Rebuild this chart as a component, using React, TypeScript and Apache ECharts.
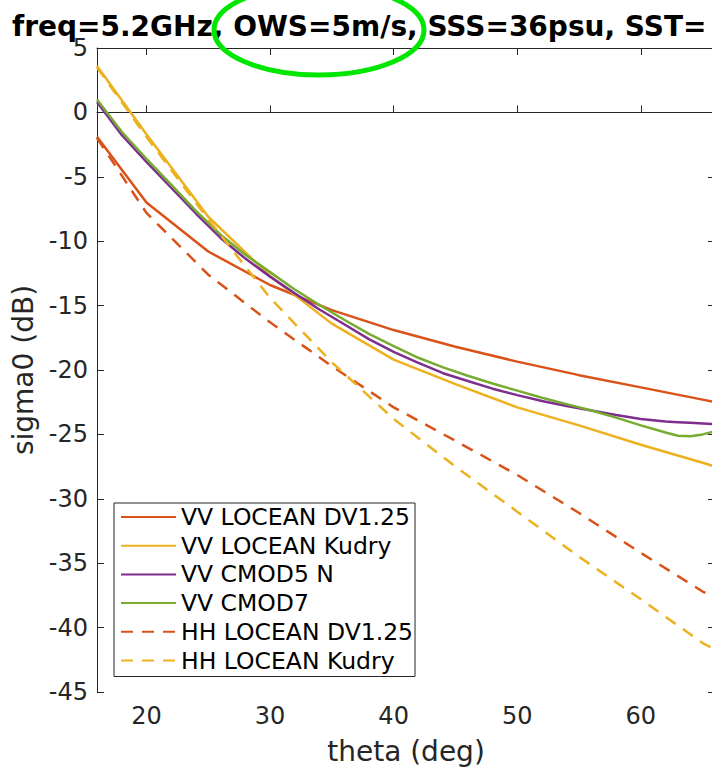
import React, { useEffect, useRef } from "react";
import * as echarts from "echarts";

// Incidence angles (deg) of the LOCEAN model curves
const thetaLocean = [16, 20, 25, 30, 35, 40, 45, 50, 55, 60, 65, 66];
const vvLoceanDV = [-1.9, -7.0, -10.8, -13.4, -15.35, -16.9, -18.2, -19.35, -20.4, -21.35, -22.3, -22.5];
const vvLoceanKudry = [3.6, -1.7, -8.1, -12.7, -16.4, -19.2, -21.1, -22.9, -24.3, -25.8, -27.2, -27.5];
const hhLoceanDV = [-2.0, -7.8, -12.6, -16.3, -19.7, -22.9, -25.5, -28.15, -31.1, -34.2, -37.2, -37.7];
const hhLoceanKudry = [3.5, -1.9, -8.3, -14.4, -19.4, -23.8, -27.5, -31.0, -34.5, -37.8, -41.2, -41.7];

// Incidence angles (deg) of the CMOD curves
const thetaCmod = [16, 18, 20, 22, 24, 26, 28, 30, 32, 34, 36, 38, 40, 42, 44, 46, 48, 50, 52, 54, 56, 58, 60, 62, 63, 64, 65, 66];
const vvCmod5n = [0.8, -1.75, -3.85, -5.85, -7.85, -9.75, -11.35, -12.75, -14.05, -15.3, -16.45, -17.6, -18.6, -19.45, -20.25, -20.85, -21.45, -21.95, -22.4, -22.8, -23.15, -23.5, -23.8, -24.0, -24.05, -24.1, -24.15, -24.2];
const vvCmod7 = [1.0, -1.5, -3.6, -5.6, -7.65, -9.5, -11.05, -12.4, -13.75, -14.95, -16.1, -17.2, -18.15, -19.05, -19.8, -20.45, -21.05, -21.6, -22.15, -22.65, -23.15, -23.7, -24.3, -24.85, -25.1, -25.15, -25.0, -24.75];

const xTickValues = [20, 30, 40, 50, 60];
const titleText = "freq=5.2GHz, OWS=5m/s, SSS=36psu, SST=";

const C_ORANGE = "#D95319";
const C_YELLOW = "#EDB120";
const C_PURPLE = "#7E2F8E";
const C_GREEN = "#77AC30";
const AX = "#262626";
const FONT = "DejaVu Sans";

const pairs = (xs: number[], ys: number[]) => xs.map((x, i) => [x, ys[i]]);

export default function App() {
  const ref = useRef<HTMLDivElement>(null);
  useEffect(() => {
    document.body.style.margin = "0";
    if (!ref.current) return;
    const chart = echarts.init(ref.current, undefined, { renderer: "svg" });
    const line = (name: string, data: number[][], color: string, dashed: boolean) => ({
      name,
      type: "line",
      data,
      symbol: "none",
      smooth: false,
      lineStyle: { color, width: 2.5, type: dashed ? [12, 9] : "solid" },
      itemStyle: { color },
    });
    chart.setOption({
      animation: false,
      backgroundColor: "#fff",
      title: {
        text: titleText,
        left: 12,
        top: 12,
        padding: 0,
        textStyle: { fontFamily: FONT, fontSize: 28, fontWeight: "bold", color: "#000" },
      },
      grid: {
        left: 97,
        top: 48,
        right: -3,
        bottom: 767 - 692,
        containLabel: false,
        outerBoundsMode: "none",
      },
      xAxis: [
        {
          type: "value",
          min: 16,
          max: 66,
          position: "bottom",
          name: "theta (deg)",
          nameLocation: "middle",
          nameGap: 45,
          nameTextStyle: { fontFamily: FONT, fontSize: 28, color: AX },
          axisLine: { show: true, lineStyle: { color: AX, width: 1 } },
          axisTick: { show: true, inside: true, length: 7, customValues: xTickValues, lineStyle: { color: AX } },
          axisLabel: { customValues: xTickValues, margin: 12, fontFamily: FONT, fontSize: 24, color: AX },
          splitLine: { show: false },
        },
        {
          type: "value",
          min: 16,
          max: 66,
          position: "top",
          axisLine: { show: true, onZero: false, lineStyle: { color: AX, width: 1 } },
          axisTick: { show: true, inside: true, length: 7, customValues: xTickValues, lineStyle: { color: AX } },
          axisLabel: { show: false },
          splitLine: { show: false },
        },
      ],
      yAxis: [
        {
          type: "value",
          min: -45,
          max: 5,
          interval: 5,
          position: "left",
          name: "sigma0 (dB)",
          nameLocation: "middle",
          nameGap: 57,
          nameRotate: 90,
          nameTextStyle: { fontFamily: FONT, fontSize: 28, color: AX },
          axisLine: { show: true, lineStyle: { color: AX, width: 1 } },
          axisTick: { show: true, inside: true, length: 7, lineStyle: { color: AX } },
          axisLabel: { margin: 9, fontFamily: FONT, fontSize: 24, color: AX },
          splitLine: { show: false },
        },
        {
          type: "value",
          min: -45,
          max: 5,
          interval: 5,
          position: "right",
          axisLine: { show: true, onZero: false, lineStyle: { color: AX, width: 1 } },
          axisTick: { show: true, inside: true, length: 7, lineStyle: { color: AX } },
          axisLabel: { show: false },
          splitLine: { show: false },
        },
      ],
      legend: {
        orient: "vertical",
        left: 114,
        top: 503,
        padding: [2, 2, 4, 6],
        itemGap: 4.7,
        itemWidth: 55,
        itemHeight: 14,
        borderColor: AX,
        borderWidth: 1,
        backgroundColor: "#fff",
        itemStyle: { opacity: 0 },
        textStyle: { fontFamily: FONT, fontSize: 23.5, color: "#000", lineHeight: 24 },
        data: [
          "VV LOCEAN DV1.25",
          "VV LOCEAN Kudry",
          "VV CMOD5 N",
          "VV CMOD7",
          "HH LOCEAN DV1.25",
          "HH LOCEAN Kudry",
        ],
      },
      series: [
        line("VV LOCEAN DV1.25", pairs(thetaLocean, vvLoceanDV), C_ORANGE, false),
        line("VV LOCEAN Kudry", pairs(thetaLocean, vvLoceanKudry), C_YELLOW, false),
        line("VV CMOD5 N", pairs(thetaCmod, vvCmod5n), C_PURPLE, false),
        line("VV CMOD7", pairs(thetaCmod, vvCmod7), C_GREEN, false),
        line("HH LOCEAN DV1.25", pairs(thetaLocean, hhLoceanDV), C_ORANGE, true),
        line("HH LOCEAN Kudry", pairs(thetaLocean, hhLoceanKudry), C_YELLOW, true),
      ],
      graphic: [
        {
          type: "ellipse",
          z: 100,
          shape: { cx: 319, cy: 30, rx: 105, ry: 45 },
          style: { fill: "none", stroke: "#00E600", lineWidth: 5 },
        },
      ],
    });
    return () => chart.dispose();
  }, []);
  return <div ref={ref} style={{ width: 712, height: 767 }} />;
}
